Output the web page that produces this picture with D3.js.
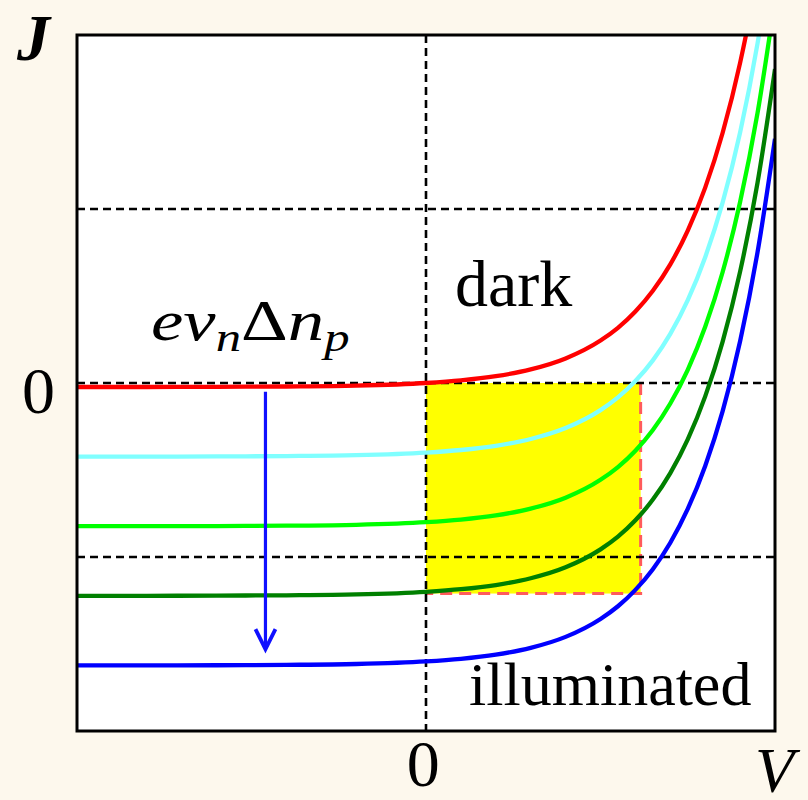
<!DOCTYPE html>
<html>
<head>
<meta charset="utf-8">
<script src="https://cdn.jsdelivr.net/npm/d3@7"></script>
<style>
body { margin: 0; background: #fdf8ed; }
text { font-family: "Liberation Serif", "Times New Roman", serif; fill: #000; }
</style>
</head>
<body>
<div id="chart"></div>
<script>
// dark J-V curve (V and J in plot units)
const voltage = [-1, -0.8, -0.6, -0.4, -0.2, 0, 0.1, 0.2, 0.3, 0.4, 0.5, 0.55, 0.6, 0.65, 0.7, 0.75, 0.8, 0.85, 0.9, 0.95, 1];
const darkCurrent = [-0.023, -0.023, -0.022, -0.020, -0.015, 0, 0.015, 0.039, 0.078, 0.141, 0.244, 0.317, 0.411, 0.530, 0.682, 0.876, 1.123, 1.438, 1.840, 2.352, 3.004];

// photocurrent shift of each curve, dark first
const photoCurrent = [0, 0.4, 0.8, 1.2, 1.6];
const curveColors = ["#ff0000", "#80ffff", "#00ff00", "#008000", "#0000ff"];

const gridV = [0];
const gridJ = [1, 0, -1];

// max power box
const mppVoltage = 0.615;
const mppCurrent = -1.21;

// arrow for increasing light
const arrowV = -0.46;
const arrowJ = [-0.05, -1.53];

const width = 808, height = 800;
const plotLeft = 77, plotRight = 775, plotTop = 35, plotBottom = 731;

var svg = d3.select("#chart").append("svg")
	.attr("width", width)
	.attr("height", height);

svg.append("rect")
	.attr("width", width).attr("height", height)
	.attr("fill", "#fdf8ed");

var x = d3.scaleLinear().domain([-1, 1]).range([plotLeft, plotRight]);
var y = d3.scaleLinear().domain([-2, 2]).range([plotBottom, plotTop]);

svg.append("clipPath").attr("id", "plotclip")
	.append("rect")
	.attr("x", plotLeft).attr("y", plotTop)
	.attr("width", plotRight - plotLeft).attr("height", plotBottom - plotTop);

svg.append("rect")
	.attr("x", plotLeft).attr("y", plotTop)
	.attr("width", plotRight - plotLeft).attr("height", plotBottom - plotTop)
	.attr("fill", "#fff");

var plot = svg.append("g").attr("clip-path", "url(#plotclip)");

// yellow box
plot.append("rect")
	.attr("x", x(0)).attr("y", y(0))
	.attr("width", x(mppVoltage) - x(0))
	.attr("height", y(mppCurrent) - y(0))
	.attr("fill", "#ffff00");

plot.append("path")
	.attr("d", d3.line()([[x(mppVoltage), y(0)], [x(mppVoltage), y(mppCurrent)], [x(0), y(mppCurrent)]]))
	.attr("fill", "none")
	.attr("stroke", "#ff5b5b")
	.attr("stroke-width", 3)
	.attr("stroke-dasharray", "12,7");

// dashed grid
plot.selectAll(".gridJ").data(gridJ).enter().append("line")
	.attr("x1", plotLeft).attr("x2", plotRight)
	.attr("y1", d => y(d)).attr("y2", d => y(d))
	.attr("stroke", "#000").attr("stroke-width", 2.6)
	.attr("stroke-dasharray", "8,5");

plot.selectAll(".gridV").data(gridV).enter().append("line")
	.attr("y1", plotTop).attr("y2", plotBottom)
	.attr("x1", d => x(d)).attr("x2", d => x(d))
	.attr("stroke", "#000").attr("stroke-width", 2.6)
	.attr("stroke-dasharray", "8,5");

// J-V curves
var line = d3.line()
	.x((d, i) => x(voltage[i]))
	.y(d => y(d))
	.curve(d3.curveMonotoneX);

plot.selectAll(".jv").data(photoCurrent).enter().append("path")
	.attr("d", jl => line(darkCurrent.map(j => j - jl)))
	.attr("fill", "none")
	.attr("stroke", (d, i) => curveColors[i])
	.attr("stroke-width", 4.3);

// arrow
var ax = x(arrowV), ay0 = y(arrowJ[0]), ay1 = y(arrowJ[1]);
plot.append("line")
	.attr("x1", ax).attr("x2", ax)
	.attr("y1", ay0).attr("y2", ay1 - 1)
	.attr("stroke", "#1010ff").attr("stroke-width", 3.2);
plot.append("path")
	.attr("d", d3.line()([[ax - 10, ay1 - 20], [ax, ay1], [ax + 10, ay1 - 20]]))
	.attr("fill", "none")
	.attr("stroke", "#1010ff").attr("stroke-width", 3.8)
	.attr("stroke-linejoin", "miter");

// frame
svg.append("rect")
	.attr("x", plotLeft).attr("y", plotTop)
	.attr("width", plotRight - plotLeft).attr("height", plotBottom - plotTop)
	.attr("fill", "none")
	.attr("stroke", "#000")
	.attr("stroke-width", 3);

// axes, only the zero labels
var yAxis = svg.append("g")
	.attr("transform", "translate(" + plotLeft + ",0)")
	.call(d3.axisLeft(y).tickValues([0]).tickFormat(d3.format("d")).tickSize(0).tickPadding(22));
var xAxis = svg.append("g")
	.attr("transform", "translate(0," + plotBottom + ")")
	.call(d3.axisBottom(x).tickValues([0]).tickFormat(d3.format("d")).tickSize(0).tickPadding(8));
svg.selectAll(".domain").remove();
yAxis.selectAll("text").attr("dy", "0.44em");
xAxis.selectAll("text").attr("dx", "-0.05em");
svg.selectAll(".tick text")
	.style("font-family", "'Liberation Serif', 'Times New Roman', serif")
	.style("font-size", "66px")
	.attr("fill", "#000");

svg.append("text")
	.attr("x", 17).attr("y", 60)
	.style("font-size", "66px")
	.style("font-style", "italic")
	.style("font-weight", "bold")
	.text("J");

svg.append("text")
	.attr("x", 755).attr("y", 792)
	.style("font-size", "64px")
	.style("font-style", "italic")
	.text("V");

svg.append("text")
	.attr("x", 455).attr("y", 306)
	.style("font-size", "66px")
	.text("dark");

svg.append("text")
	.attr("x", 469).attr("y", 705)
	.style("font-size", "62px")
	.text("illuminated");

// e v_n Δn_p
var eq = svg.append("g")
	.attr("transform", "translate(151,340) scale(1.3,1)");
var eqText = eq.append("text").style("font-size", "56px");
eqText.append("tspan").style("font-style", "italic").text("ev");
eqText.append("tspan").style("font-style", "italic").style("font-size", "39px").attr("dy", 11).text("n");
eqText.append("tspan").attr("dy", -11).text("\u0394");
eqText.append("tspan").style("font-style", "italic").text("n");
eqText.append("tspan").style("font-style", "italic").style("font-size", "39px").attr("dy", 11).text("p");
</script>
</body>
</html>
